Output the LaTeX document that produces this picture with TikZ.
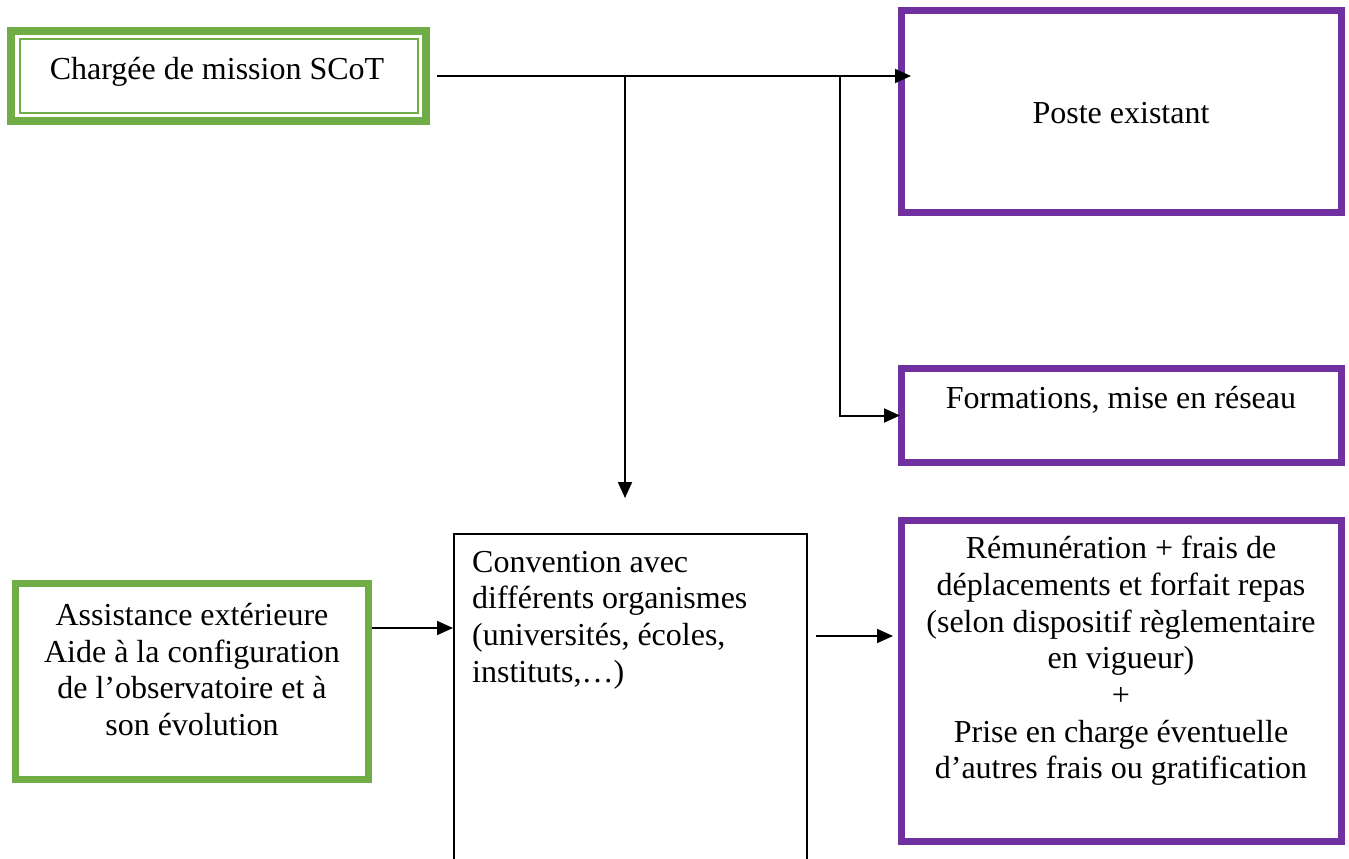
\documentclass[tikz,border=0pt]{standalone}
\usepackage{fontspec}
\setmainfont{Liberation Serif}
\usepackage{tikz}
\usetikzlibrary{positioning,calc,arrows.meta}
\definecolor{boxgreen}{RGB}{112,173,71}
\definecolor{boxpurple}{RGB}{112,48,160}
\tikzset{greenbox/.style={rectangle, draw=boxgreen, line width=7pt, inner sep=0pt}}
\tikzset{purplebox/.style={rectangle, draw=boxpurple, line width=7pt, inner sep=0pt}}
\tikzset{plainbox/.style={rectangle, draw=black, line width=2pt, inner sep=0pt}}
\tikzset{txt/.style={font=\fontsize{32}{36.7}\selectfont, align=center, inner sep=0pt}}
\tikzset{arrow/.style={line width=2pt, -{Triangle[length=16pt,width=14pt]}}}

\begin{document}
\begin{tikzpicture}[x=1pt,y=-1pt]
\useasboundingbox (0,0) rectangle (1349,859);
% boites
\node[greenbox, line width=8pt, minimum width=415pt, minimum height=90pt] (chargee) at (218.5,76) {};
\draw[boxgreen, line width=2pt] ($(chargee.north west)+(12.5,12.5)$) rectangle ($(chargee.south east)+(-12.5,-12.5)$);
\node[purplebox, minimum width=440pt, minimum height=202pt] (poste) at (1121.5,111.5) {};
\node[purplebox, minimum width=440pt, minimum height=94pt] (formations) at (1121.5,415.5) {};
\node[purplebox, minimum width=440pt, minimum height=321pt] (remun) at (1121.5,681) {};
\node[greenbox, minimum width=353pt, minimum height=196pt] (assist) at (192,681.5) {};
\node[plainbox, minimum width=353pt, minimum height=360pt] (conv) at (630.5,714) {};
% textes
\node[txt] (chargee-t) at (217,72) {Chargée de mission SCoT};
\node[txt] (poste-t) at (1121,113) {Poste existant};
\node[txt] (formations-t) at (1121,400) {Formations, mise en réseau};
\node[txt] (remun-t) at (1121,661) {Rémunération + frais de\\ déplacements et forfait repas\\ (selon dispositif règlementaire\\ en vigueur)\\ +\\ Prise en charge éventuelle\\ d’autres frais ou gratification};
\node[txt] (assist-t) at (192,669.5) {Assistance extérieure\\ Aide à la configuration\\ de l’observatoire et à\\ son évolution};
\node[txt, align=left, anchor=west] (conv-t) at (472,620) {Convention avec\\ différents organismes\\ (universités, écoles,\\ instituts,…)};
% fleches
\coordinate (j1) at (625,76);
\coordinate (j2) at (840,76);
\coordinate (down-end) at (625,498);
\draw[arrow, shorten >=-13pt] ([xshift=7pt]chargee.east) -- (chargee.east -| poste.west);
\draw[arrow] (j1) -- (down-end);
\draw[arrow, shorten >=-2pt] (j2) |- (formations.west);
\draw[arrow] ($(assist.east)+(0,-53.5)$) -- ($(assist.east -| conv.west)+(0,-53.5)$);
\draw[arrow] ($(conv.east |- remun.west)+(8,-45)$) -- ($(remun.west)+(-5,-45)$);
\end{tikzpicture}
\end{document}
